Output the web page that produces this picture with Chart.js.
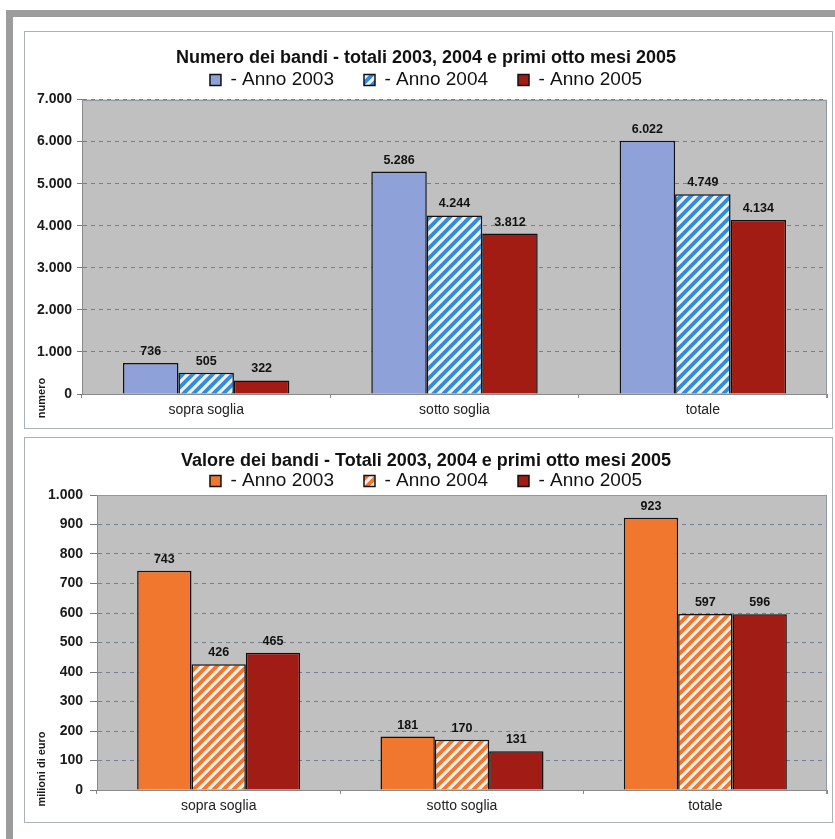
<!DOCTYPE html>
<html><head><meta charset="utf-8">
<script src="https://cdn.jsdelivr.net/npm/chart.js@4.4.0/dist/chart.umd.min.js"></script>
<style>
html,body{margin:0;padding:0;background:#fff;width:835px;height:839px;overflow:hidden;position:relative;}
#frame{position:absolute;left:6px;top:10px;width:900px;height:900px;border-left:7px solid #9c9c9c;border-top:7px solid #9c9c9c;}
.panel{position:absolute;left:24px;width:807px;border:1px solid #a9b1b9;background:#fff;}
#p1{top:31px;height:396px;}
#p2{top:437px;height:384px;}
canvas{display:block}
</style></head>
<body>
<div id="frame"></div>
<div class="panel" id="p1"><canvas id="c1" width="807" height="396"></canvas></div>
<div class="panel" id="p2"><canvas id="c2" width="807" height="384"></canvas></div>
<script>
// ---- data ----
const categories = ['sopra soglia', 'sotto soglia', 'totale'];
const seriesLabels = ['- Anno 2003', '- Anno 2004', '- Anno 2005'];
const numero2003 = [736, 5286, 6022];
const numero2004 = [505, 4244, 4749];
const numero2005 = [322, 3812, 4134];
const valore2003 = [743, 181, 923];
const valore2004 = [426, 170, 597];
const valore2005 = [465, 131, 596];
const numeroMax = 7000, numeroStep = 1000;
const valoreMax = 1000, valoreStep = 100;
const title1 = 'Numero dei bandi - totali 2003, 2004 e primi otto mesi 2005';
const title2 = 'Valore dei bandi - Totali 2003, 2004 e primi otto mesi 2005';
const yTitle1 = 'numero';
const yTitle2 = 'milioni di euro';

const FONT = "'Liberation Sans', Arial, Helvetica, sans-serif";
Chart.defaults.font.family = FONT;
Chart.defaults.color = '#1a1a1a';

function fmt(v) { return String(v).replace(/\B(?=(\d{3})+(?!\d))/g, '.'); }

function stripes(color, bg) {
  const s = 10;
  const c = document.createElement('canvas');
  c.width = s; c.height = s;
  const x = c.getContext('2d');
  x.fillStyle = bg; x.fillRect(0, 0, s, s);
  x.strokeStyle = color; x.lineWidth = 3.8; x.lineCap = 'square';
  x.beginPath();
  x.moveTo(0, s); x.lineTo(s, 0);
  x.moveTo(-s / 2, s / 2); x.lineTo(s / 2, -s / 2);
  x.moveTo(s / 2, s * 1.5); x.lineTo(s * 1.5, s / 2);
  x.stroke();
  return c.getContext('2d').createPattern(c, 'repeat');
}

const plotFrame = {
  id: 'plotFrame',
  beforeDraw(chart) {
    const { ctx, chartArea: a } = chart;
    ctx.save();
    ctx.fillStyle = '#c0c0c0';
    ctx.fillRect(a.left, a.top, a.right - a.left, a.bottom - a.top);
    ctx.restore();
  },
  beforeDatasetsDraw(chart) {
    const { ctx, chartArea: a } = chart;
    ctx.save();
    ctx.strokeStyle = '#8e98a2';
    ctx.lineWidth = 1;
    ctx.beginPath();
    ctx.moveTo(a.left, Math.round(a.top) + 0.5);
    ctx.lineTo(Math.round(a.right) - 0.5, Math.round(a.top) + 0.5);
    ctx.lineTo(Math.round(a.right) - 0.5, a.bottom + 4);
    ctx.stroke();
    ctx.restore();
  }
};

const valueLabels = {
  id: 'valueLabels',
  afterDatasetsDraw(chart) {
    const { ctx } = chart;
    ctx.save();
    ctx.font = 'bold 12.5px ' + FONT;
    ctx.fillStyle = '#111';
    ctx.textAlign = 'center';
    ctx.textBaseline = 'alphabetic';
    chart.data.datasets.forEach((ds, i) => {
      chart.getDatasetMeta(i).data.forEach((el, j) => {
        ctx.fillText(fmt(ds.data[j]), el.x, el.y - 8);
      });
    });
    ctx.restore();
  }
};

const axisTitle = {
  id: 'axisTitle',
  afterDraw(chart, args, opts) {
    const { ctx, chartArea: a } = chart;
    ctx.save();
    ctx.font = 'bold 11px ' + FONT;
    ctx.fillStyle = '#1a1a1a';
    ctx.textAlign = 'center';
    ctx.textBaseline = 'middle';
    ctx.translate(opts.x, a.bottom + opts.dy);
    ctx.rotate(-Math.PI / 2);
    ctx.fillText(opts.text, 0, 0);
    ctx.restore();
  }
};

function makeChart(id, cfg) {
  const dsColors = cfg.colors;
  return new Chart(document.getElementById(id), {
    type: 'bar',
    data: {
      labels: categories,
      datasets: cfg.series.map((d, i) => ({
        label: seriesLabels[i],
        data: d,
        backgroundColor: dsColors[i],
        borderColor: '#111',
        borderWidth: 1.5,
        categoryPercentage: 0.67,
        barPercentage: 1.0
      }))
    },
    options: {
      responsive: false,
      animation: false,
      layout: { padding: { top: 0, right: 5, left: 0, bottom: 0 } },
      plugins: {
        title: {
          display: true, text: cfg.title, color: '#111',
          font: { size: 18, weight: 'bold' },
          padding: { top: cfg.titleTop, bottom: cfg.titleBottom }
        },
        legend: {
          position: 'top',
          maxHeight: cfg.legendMax,
          labels: { boxWidth: 11, boxHeight: 11, padding: 30, color: '#111', font: { size: 19 } }
        },
        tooltip: { enabled: false },
        axisTitle: { text: cfg.yTitle, x: 17, dy: cfg.yTitleDy }
      },
      scales: {
        x: {
          offset: true,
          grid: { display: true, drawOnChartArea: false, offset: true, tickLength: 4, tickColor: '#8a8a8a' },
          border: { color: '#8a8a8a', width: 1 },
          ticks: { font: { size: 14 }, color: '#222', padding: 4 },
          afterFit(s) { s.height = cfg.xHeight; }
        },
        y: {
          min: 0, max: cfg.max,
          ticks: { stepSize: cfg.step, callback: v => fmt(v), font: { size: 14, weight: 'bold' }, color: '#1a1a1a', padding: cfg.tickPad },
          grid: {
            color: c => (c.tick && c.tick.value === 0) ? 'rgba(0,0,0,0)' : '#6e8194',
            tickColor: '#7a7a7a', tickLength: cfg.tickLen, tickBorderDash: []
          },
          border: { color: '#8a8a8a', width: 1, dash: [4, 4] },
          afterFit(s) { s.width = cfg.yWidth; }
        }
      }
    },
    plugins: [plotFrame, valueLabels, axisTitle]
  });
}

makeChart('c1', {
  series: [numero2003, numero2004, numero2005],
  colors: ['#8fa1d9', stripes('#2f8ce0', '#f6f0f2'), '#a21c14'],
  title: title1, titleTop: 15.2, titleBottom: -28.3, legendMax: 59,
  max: numeroMax, step: numeroStep, yTitle: yTitle1, yTitleDy: 4,
  xHeight: 34, yWidth: 57, tickLen: 5, tickPad: 5
});
makeChart('c2', {
  series: [valore2003, valore2004, valore2005],
  colors: ['#f2772e', stripes('#f2772e', '#f8f0ec'), '#a01c14'],
  title: title2, titleTop: 12.2, titleBottom: -30.3, legendMax: 53.5,
  max: valoreMax, step: valoreStep, yTitle: yTitle2, yTitleDy: -21,
  xHeight: 32, yWidth: 72, tickLen: 7, tickPad: 7
});
</script>
</body></html>
